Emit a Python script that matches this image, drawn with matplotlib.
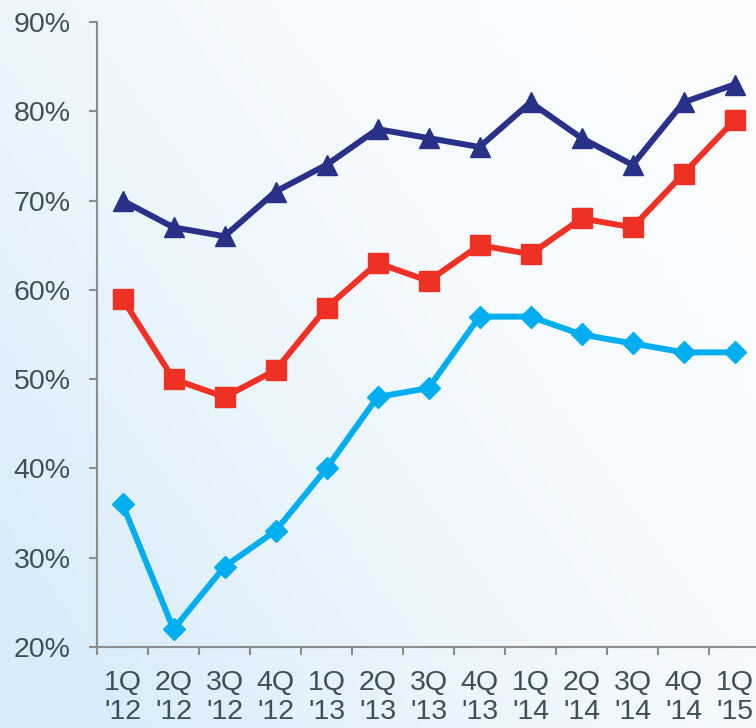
import matplotlib.pyplot as plt
import numpy as np
from matplotlib.colors import to_rgb

# Quarterly data, 1Q '12 .. 1Q '15 (percent)
quarters = ["1Q\n'12", "2Q\n'12", "3Q\n'12", "4Q\n'12",
            "1Q\n'13", "2Q\n'13", "3Q\n'13", "4Q\n'13",
            "1Q\n'14", "2Q\n'14", "3Q\n'14", "4Q\n'14",
            "1Q\n'15"]
navy_vals = [70, 67, 66, 71, 74, 78, 77, 76, 81, 77, 74, 81, 83]
red_vals = [59, 50, 48, 51, 58, 63, 61, 65, 64, 68, 67, 73, 79]
cyan_vals = [36, 22, 29, 33, 40, 48, 49, 57, 57, 55, 54, 53, 53]
y_ticks = [20, 30, 40, 50, 60, 70, 80, 90]

plt.rcParams['font.family'] = ['Liberation Sans', 'DejaVu Sans']

fig = plt.figure(figsize=(7.56, 7.28), dpi=100)

# soft blue background, fading to white toward the top right
bg = fig.add_axes([0, 0, 1, 1], zorder=-10)
u = np.linspace(0, 1, 300)
v = np.linspace(1, 0, 300)
U, V = np.meshgrid(u, v)
t = np.clip(((1 - U) * 0.65 + (1 - V) * 0.45), 0, 1) ** 2.0
c0 = np.array(to_rgb('#fbfdff'))
c1 = np.array(to_rgb('#d8ecf9'))
img = c0[None, None, :] * (1 - t[..., None]) + c1[None, None, :] * t[..., None]
bg.imshow(img, aspect='auto', extent=[0, 1, 0, 1], origin='upper')
bg.axis('off')

ax = fig.add_axes([97 / 756, 1 - 647 / 728, 663 / 756, 625 / 728])
ax.patch.set_alpha(0)

x = np.arange(len(quarters))
ax.plot(x, cyan_vals, color='#00aeef', lw=4.3, marker='D', ms=11.5,
        solid_joinstyle='miter', zorder=3)
ax.plot(x, red_vals, color='#ee3124', lw=4.3, marker='s', ms=14,
        solid_joinstyle='miter', zorder=4)
ax.plot(x, navy_vals, color='#283087', lw=4.3, marker='^', ms=15,
        solid_joinstyle='miter', zorder=5)

ax.set_xlim(-0.5, len(quarters) - 0.5)
ax.set_ylim(20, 90)

for s in ['top', 'right']:
    ax.spines[s].set_visible(False)
for s in ['left', 'bottom']:
    ax.spines[s].set_color('#8c8c8c')
    ax.spines[s].set_linewidth(1.5)

ax.set_yticks(y_ticks)
ax.set_yticklabels([f'{v}%' for v in y_ticks])
ax.tick_params(axis='y', length=6, width=1.5, color='#8c8c8c',
               labelsize=20.5, labelcolor='#3e4f5b', pad=13)

# tick marks between quarters, labels at the quarter centres
ax.set_xticks(np.arange(len(quarters) + 1) - 0.5)
ax.set_xticklabels([])
ax.tick_params(axis='x', which='major', length=6, width=1.5, color='#8c8c8c')
ax.set_xticks(x, minor=True)
ax.set_xticklabels(quarters, minor=True, linespacing=1.15)
ax.tick_params(axis='x', which='minor', length=0, labelsize=20.5,
               labelcolor='#3e4f5b', pad=16.5)

fig.savefig('out.png', dpi=100)
